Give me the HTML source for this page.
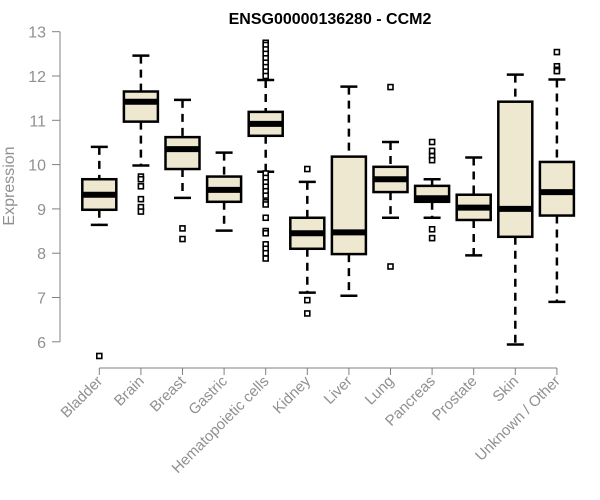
<!DOCTYPE html>
<html><head><meta charset="utf-8">
<style>body{margin:0;background:#fff}svg{display:block;font-family:"Liberation Sans",Arial,sans-serif}</style>
</head><body>
<svg id="chart" width="600" height="500">
<text x="330" y="24" text-anchor="middle" font-weight="bold" font-size="16">ENSG00000136280 - CCM2</text>
<text transform="translate(14,186) rotate(-90)" text-anchor="middle" font-size="16" fill="#909090">Expression</text>
<g id="axes"></g><g id="marks"></g>
</svg>
<script>
const categories=["Bladder","Brain","Breast","Gastric","Hematopoietic cells","Kidney","Liver","Lung","Pancreas","Prostate","Skin","Unknown / Other"];
const whiskerLow=[8.64,9.98,9.25,8.51,9.84,7.11,7.04,8.80,8.80,7.95,5.94,6.90];
const q1=[8.98,10.97,9.90,9.16,10.65,8.10,7.98,9.38,9.16,8.75,8.37,8.85];
const medians=[9.32,11.42,10.35,9.43,10.92,8.45,8.47,9.67,9.24,9.03,9.00,9.38];
const q3=[9.67,11.65,10.62,9.73,11.19,8.80,10.18,9.95,9.52,9.32,11.42,10.06];
const whiskerHigh=[10.40,12.46,11.46,10.27,11.91,9.61,11.76,10.51,9.67,10.16,12.03,11.92];
const outliers=[[5.68],[9.73,9.67,9.51,9.22,9.04,8.94],[8.56,8.32],[],
[12.75,12.7,12.6,12.5,12.4,12.3,12.2,12.1,12.0,9.8,9.7,9.6,9.5,9.4,9.3,9.15,9.1,8.8,8.5,8.45,8.2,8.1,8.0,7.88],
[9.9,6.94,6.64],[],[11.75,7.70],[10.51,10.31,10.19,10.10,8.54,8.34],[],[],[12.54,12.22,12.14,12.11]];
const yTicks=[6,7,8,9,10,11,12,13];

const NS="http://www.w3.org/2000/svg";
const y=v=>31.7+(13-v)*44.3;
const x=i=>99.3+i*41.6;
function mk(tag,attrs,parent){const e=document.createElementNS(NS,tag);for(const k in attrs)e.setAttribute(k,attrs[k]);parent.appendChild(e);return e;}
const axes=document.getElementById('axes'),marks=document.getElementById('marks');
let l=mk('line',{x1:60,x2:60,y1:y(13),y2:y(6),stroke:'#808080'},axes);


yTicks.forEach(t=>{
 const tk=mk('line',{x1:52,x2:60,y1:y(t),y2:y(t),stroke:'#808080'},axes);
 
 
 const tx=mk('text',{x:46,y:y(t)+6,'text-anchor':'end','font-size':16,fill:'#909090'},axes);
 tx.textContent=t;
 
 
});
const xl=mk('line',{x1:x(0),x2:x(categories.length-1),y1:368,y2:368,stroke:'#808080'},axes);


categories.forEach((c,i)=>{
 const cx=x(i);
 const tk=mk('line',{x1:cx,x2:cx,y1:368,y2:375,stroke:'#808080'},axes);
 
 
 const tx=mk('text',{x:cx+4,y:382,'text-anchor':'end','font-size':15,fill:'#909090',transform:`rotate(-45 ${cx+4} 382)`},axes);
 tx.textContent=c;
 
 
 const g=mk('g',{},marks);
 
 
 const w=17,cw=8.5;
 mk('line',{x1:cx,x2:cx,y1:y(whiskerHigh[i]),y2:y(q3[i]),stroke:'#000','stroke-width':2.5,'stroke-dasharray':'8,6'},g);
 mk('line',{x1:cx,x2:cx,y1:y(q1[i]),y2:y(whiskerLow[i]),stroke:'#000','stroke-width':2.5,'stroke-dasharray':'8,6'},g);
 mk('line',{x1:cx-cw,x2:cx+cw,y1:y(whiskerHigh[i]),y2:y(whiskerHigh[i]),stroke:'#000','stroke-width':2.5},g);
 mk('line',{x1:cx-cw,x2:cx+cw,y1:y(whiskerLow[i]),y2:y(whiskerLow[i]),stroke:'#000','stroke-width':2.5},g);
 mk('rect',{x:cx-w,y:y(q3[i]),width:2*w,height:y(q1[i])-y(q3[i]),fill:'#ede8cf',stroke:'#000','stroke-width':2.5},g);
 mk('line',{x1:cx-w,x2:cx+w,y1:y(medians[i]),y2:y(medians[i]),stroke:'#000','stroke-width':6},g);
 outliers[i].forEach(v=>{mk('rect',{x:cx-2.5,y:y(v)-2.5,width:5,height:5,fill:'#fff',stroke:'#000','stroke-width':1.6},g);});
});
</script>
</body></html>
